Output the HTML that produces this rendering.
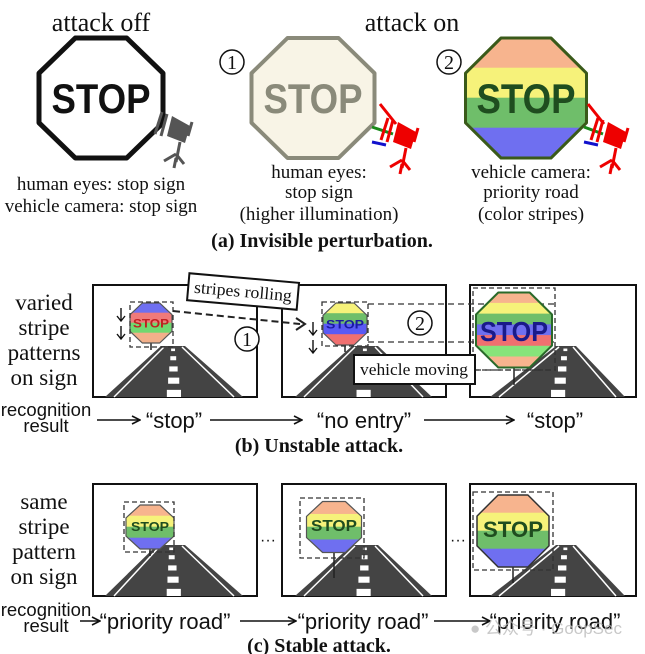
<!DOCTYPE html>
<html><head><meta charset="utf-8">
<style>
html,body{margin:0;padding:0;background:#fff;}
svg{display:block;}
.serif{font-family:"Liberation Serif",serif;}
.sans{font-family:"Liberation Sans",sans-serif;}
</style></head>
<body>
<svg id="s" width="645" height="654" viewBox="0 0 645 654" xmlns="http://www.w3.org/2000/svg">
<defs>
<marker id="ah" markerWidth="10" markerHeight="10" refX="9" refY="5" orient="auto" markerUnits="userSpaceOnUse">
<path d="M1,1 L9,5 L1,9" fill="none" stroke="#111" stroke-width="1.6"/></marker>
</defs>
<g id="g"></g>
<g class="serif" fill="#111">
<text x="101" y="31" font-size="26" text-anchor="middle">attack off</text>
<text x="412" y="31" font-size="26" text-anchor="middle">attack on</text>
<text x="101" y="190" font-size="19" text-anchor="middle">human eyes: stop sign</text>
<text x="101" y="212" font-size="19" text-anchor="middle">vehicle camera: stop sign</text>
<text x="319" y="178" font-size="19" text-anchor="middle">human eyes:</text>
<text x="319" y="198" font-size="19" text-anchor="middle">stop sign</text>
<text x="319" y="220" font-size="19" text-anchor="middle">(higher illumination)</text>
<text x="531" y="178" font-size="19" text-anchor="middle">vehicle camera:</text>
<text x="531" y="198" font-size="19" text-anchor="middle">priority road</text>
<text x="531" y="220" font-size="19" text-anchor="middle">(color stripes)</text>
<text x="322" y="247" font-size="20" font-weight="bold" text-anchor="middle">(a) Invisible perturbation.</text>

<text x="44" y="310" font-size="23" text-anchor="middle">varied</text>
<text x="44" y="335" font-size="23" text-anchor="middle">stripe</text>
<text x="44" y="360" font-size="23" text-anchor="middle">patterns</text>
<text x="44" y="385" font-size="23" text-anchor="middle">on sign</text>
<text x="319" y="452" font-size="20" font-weight="bold" text-anchor="middle">(b) Unstable attack.</text>

<text x="44" y="509" font-size="23" text-anchor="middle">same</text>
<text x="44" y="534" font-size="23" text-anchor="middle">stripe</text>
<text x="44" y="559" font-size="23" text-anchor="middle">pattern</text>
<text x="44" y="584" font-size="23" text-anchor="middle">on sign</text>
<text x="319" y="652" font-size="20" font-weight="bold" text-anchor="middle">(c) Stable attack.</text>
</g>
<g class="sans" fill="#111">
<text x="46" y="416" font-size="18.5" text-anchor="middle">recognition</text>
<text x="46" y="432" font-size="18.5" text-anchor="middle">result</text>
<text x="174" y="428" font-size="22" text-anchor="middle">“stop”</text>
<text x="364" y="428" font-size="22" text-anchor="middle">“no entry”</text>
<text x="555" y="428" font-size="22" text-anchor="middle">“stop”</text>
<text x="46" y="616" font-size="18.5" text-anchor="middle">recognition</text>
<text x="46" y="632" font-size="18.5" text-anchor="middle">result</text>
<text x="165" y="629" font-size="22" text-anchor="middle">“priority road”</text>
<text x="363" y="629" font-size="22" text-anchor="middle">“priority road”</text>
<text x="555" y="629" font-size="22" text-anchor="middle">“priority road”</text>
</g>
<g stroke="#111" stroke-width="1.6" fill="none" marker-end="url(#ah)">
<line x1="97" y1="420" x2="140" y2="420"/>
<line x1="210" y1="420" x2="302" y2="420"/>
<line x1="424" y1="420" x2="514" y2="420"/>
<line x1="80" y1="621" x2="100" y2="621"/>
<line x1="240" y1="621" x2="296" y2="621"/>
<line x1="434" y1="621" x2="490" y2="621"/>
</g>
<text x="470" y="634" font-size="17" fill="#bbb" font-family="'Liberation Sans','Noto Sans CJK SC',sans-serif" opacity="0.8">● 公众号 · GoopSec</text>
</svg>
<script>
function oct(cx,cy,w,h){var a=w*0.207,b=h*0.207,x=w/2,y=h/2;
return [[cx-a,cy-y],[cx+a,cy-y],[cx+x,cy-b],[cx+x,cy+b],[cx+a,cy+y],[cx-a,cy+y],[cx-x,cy+b],[cx-x,cy-b]].map(p=>p[0].toFixed(1)+','+p[1].toFixed(1)).join(' ');}
var out='',cid=0;
function sign(cx,cy,w,h,cols,stroke,sw,txt,tcol,fs,tl,ty){
 var id='c'+(cid++);var pts=oct(cx,cy,w,h);
 out+='<clipPath id="'+id+'"><polygon points="'+pts+'"/></clipPath><g clip-path="url(#'+id+')">';
 var n=cols.length,sh=h/n;
 for(var i=0;i<n;i++)out+='<rect x="'+(cx-w/2)+'" y="'+(cy-h/2+i*sh-0.3)+'" width="'+w+'" height="'+(sh+0.6)+'" fill="'+cols[i]+'"/>';
 out+='</g><polygon points="'+pts+'" fill="none" stroke="'+stroke+'" stroke-width="'+sw+'" stroke-linejoin="round"/>';
 out+='<text x="'+cx+'" y="'+(ty||cy+fs*0.36)+'" font-family="Liberation Sans,sans-serif" font-weight="bold" font-size="'+fs+'" fill="'+tcol+'" text-anchor="middle" textLength="'+tl+'" lengthAdjust="spacingAndGlyphs">'+txt+'</text>';
}
function box(x,y,w,h){out+='<rect x="'+x+'" y="'+y+'" width="'+w+'" height="'+h+'" fill="#fff" stroke="#111" stroke-width="2"/>';}
function road(cx,ty,by,tw,bl,br){
 out+='<polygon points="'+(cx-tw/2)+','+ty+' '+(cx+tw/2)+','+ty+' '+br+','+by+' '+bl+','+by+'" fill="#444"/>';
 out+='<line x1="'+(cx-tw/2+3)+'" y1="'+(ty+1)+'" x2="'+(bl+9)+'" y2="'+by+'" stroke="#fff" stroke-width="1.5"/>';
 out+='<line x1="'+(cx+tw/2-3)+'" y1="'+(ty+1)+'" x2="'+(br-9)+'" y2="'+by+'" stroke="#fff" stroke-width="1.5"/>';
 var cb=(bl+br)/2;var segs=[[0.05,0.1],[0.2,0.28],[0.4,0.5],[0.62,0.74],[0.86,1]];
 segs.forEach(s=>{var y1=ty+(by-ty)*s[0],y2=ty+(by-ty)*s[1];var xm=cx+(cb-cx)*(s[0]+s[1])/2;var ww=3+12*(s[0]+s[1])/2;
 out+='<rect x="'+(xm-ww/2)+'" y="'+y1+'" width="'+ww+'" height="'+(y2-y1)+'" fill="#fff"/>';});
}
function dbox(x,y,w,h){out+='<rect x="'+x+'" y="'+y+'" width="'+w+'" height="'+h+'" fill="none" stroke="#333" stroke-width="1.3" stroke-dasharray="5,3"/>';}
function pole(x,y1,y2){out+='<line x1="'+x+'" y1="'+y1+'" x2="'+x+'" y2="'+y2+'" stroke="#222" stroke-width="1.5"/>';}
function circ(cx,cy,t){out+='<circle cx="'+cx+'" cy="'+cy+'" r="12" fill="#fff" stroke="#111" stroke-width="1.5"/><text x="'+cx+'" y="'+(cy+7)+'" font-family="Liberation Serif,serif" font-size="20" text-anchor="middle" fill="#111">'+t+'</text>';}
function cam(x,y,col){
 out+='<g transform="translate('+x+','+y+')" fill="'+col+'" stroke="'+col+'">';
 out+='<polygon points="0,-8 18,2 13,19 -5,12" stroke="none"/>';
 out+='<line x1="-10" y1="-12" x2="-17" y2="10" stroke-width="3"/><line x1="-5" y1="-10" x2="-11" y2="12" stroke-width="3"/>';
 out+='<line x1="20" y1="-2" x2="16" y2="12" stroke-width="3"/>';
 out+='<line x1="8" y1="18" x2="4" y2="38" stroke-width="3"/><line x1="4" y1="30" x2="-8" y2="37" stroke-width="3"/><line x1="4" y1="30" x2="12" y2="40" stroke-width="3"/><line x1="4" y1="34" x2="2" y2="44" stroke-width="3"/>';
 out+='</g>';
}
sign(101,98,124,120,['#fff'],'#111',5,'STOP','#111',42,99);
sign(313,98,123,120,['#f8f4e6'],'#8a8a7a',4,'STOP','#8a8a7a',42,99);
sign(526,98,121,120,['#f7b48e','#f6f27a','#6fbe6a','#6f6ff0'],'#3a5a1a',3,'STOP','#1f4d1f',42,99);
circ(232,62,'1');circ(449,62,'2');
cam(172,124,'#555');
out+='<line x1="380" y1="104" x2="396" y2="124" stroke="#e00" stroke-width="3"/><line x1="372" y1="127" x2="393" y2="134" stroke="#1a8a1a" stroke-width="3"/><line x1="372" y1="142" x2="386" y2="145" stroke="#11c" stroke-width="3"/>';
cam(398,130,'#e00');
out+='<line x1="588" y1="104" x2="604" y2="124" stroke="#e00" stroke-width="3"/><line x1="584" y1="127" x2="603" y2="134" stroke="#1a8a1a" stroke-width="3"/><line x1="584" y1="142" x2="598" y2="145" stroke="#11c" stroke-width="3"/>';
cam(608,130,'#e00');
box(93,285,164,112);box(282,285,164,112);box(470,285,166,112);
road(173,346,397,24,105,243);road(365,346,397,26,295,432);road(566,346,397,20,490,625);
pole(151,343,350);sign(151,323,42,40,['#6f6ff0','#f07a7a','#70d870','#f2b08a'],'#555',1.2,'STOP','#c02020',12,36);
dbox(130,302,43,45);
pole(345,345,352);sign(345,324,44,42,['#f6f27a','#6fbe6a','#5a5af5','#f07070'],'#555',1.2,'STOP','#1a1aa0',12,38);
dbox(322,302,46,44);
out+='<g stroke="#333" stroke-width="1.3" fill="none" stroke-dasharray="6,4"><line x1="368" y1="304" x2="556" y2="304"/><line x1="368" y1="342" x2="556" y2="342"/><line x1="475" y1="370" x2="556" y2="370"/></g>';
pole(514,367,385);sign(514,330,76,75,['#f7b48e','#f6f27a','#6fbe6a','#6f6ff0','#f07070','#86e47a','#f7b48e'],'#2a6a2a',2,'STOP','#1a1a8a',28,68,341);
dbox(473,288,82,82);
out+='<g stroke="#111" stroke-width="1.4" fill="none"><path d="M121,308 v12 M117,316 l4,5 l4,-5 M121,326 v12 M117,334 l4,5 l4,-5"/><path d="M313,322 v12 M309,330 l4,5 l4,-5 M313,340 v12 M309,348 l4,5 l4,-5"/></g>';
out+='<path d="M173,311 L300,324" stroke="#222" stroke-width="2" stroke-dasharray="7,4" fill="none"/><path d="M296,318 L305,324 L296,330" stroke="#222" stroke-width="2" fill="none"/>';
circ(247,339,'1');circ(420,323,'2');
out+='<g transform="rotate(5 243 292)"><rect x="188" y="278" width="110" height="27" fill="#fff" stroke="#111" stroke-width="2"/><text x="243" y="297" font-family="Liberation Serif,serif" font-size="17" text-anchor="middle" fill="#111" textLength="98" lengthAdjust="spacingAndGlyphs">stripes rolling</text></g>';
out+='<rect x="354" y="355" width="121" height="29" fill="#fff" stroke="#111" stroke-width="2"/><text x="414" y="375" font-family="Liberation Serif,serif" font-size="17" text-anchor="middle" fill="#111" textLength="108" lengthAdjust="spacingAndGlyphs">vehicle moving</text>';
box(93,484,164,112);box(282,484,164,112);box(470,484,166,112);
road(171,545,596,28,105,243);road(365,545,596,26,295,432);road(566,545,596,20,490,625);
var cc=['#f7b48e','#f6f27a','#6fbe6a','#6f6ff0'];
pole(150,548,556);sign(150,527,48,44,cc,'#555',1.2,'STOP','#1f4d1f',13,38,531);dbox(124,502,50,50);
pole(334,553,578);sign(334,527,55,51,cc,'#555',1.2,'STOP','#1f4d1f',16,46,531);dbox(300,498,64,60);
pole(513,567,583);sign(513,531,72,72,cc,'#333',1.5,'STOP','#1f4d1f',22,60,537);dbox(473,492,80,78);
out+='<text x="268" y="545" font-family="Liberation Sans,sans-serif" font-size="16" text-anchor="middle" fill="#111">···</text><text x="458" y="545" font-family="Liberation Sans,sans-serif" font-size="16" text-anchor="middle" fill="#111">···</text>';
document.getElementById('g').innerHTML=out;
</script>
</body></html>
